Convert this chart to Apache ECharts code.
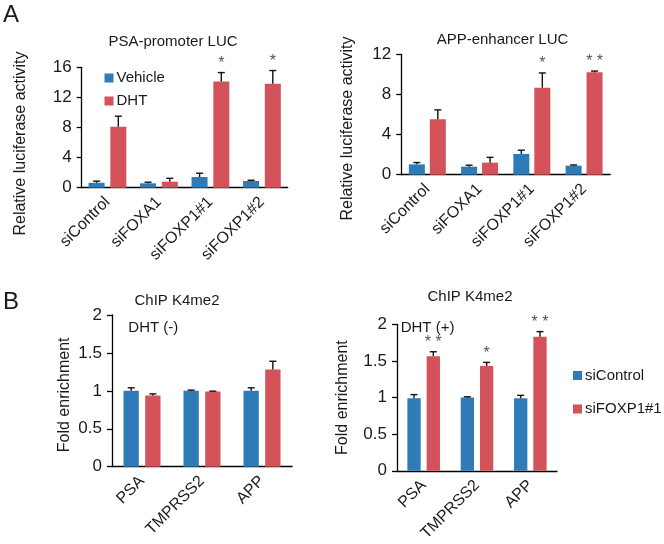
<!DOCTYPE html>
<html>
<head>
<meta charset="utf-8">
<script src="https://cdn.jsdelivr.net/npm/echarts@6/dist/echarts.min.js"></script>
<style>html,body{margin:0;padding:0;background:#fff}#c{width:664px;height:544px}</style>
</head>
<body>
<div id="c"></div>
<script>
// ---- data ----
const catsA = ['siControl', 'siFOXA1', 'siFOXP1#1', 'siFOXP1#2'];
const psaVehicle = [0.65, 0.58, 1.42, 0.89];
const psaVehicleErr = [0.22, 0.15, 0.5, 0.1];
const psaDHT = [8.1, 0.8, 14.1, 13.8];
const psaDHTErr = [1.4, 0.45, 1.2, 1.77];
const psaSig = ['', '', '*', '*'];

const appVehicle = [1.03, 0.8, 2.07, 0.9];
const appVehicleErr = [0.18, 0.15, 0.37, 0.07];
const appDHT = [5.53, 1.2, 8.67, 10.2];
const appDHTErr = [0.93, 0.53, 1.47, 0.13];
const appSig = ['', '', '*', '**'];

const catsB = ['PSA', 'TMPRSS2', 'APP'];
const minusControl = [1.0, 1.0, 1.0];
const minusControlErr = [0.04, 0.01, 0.04];
const minusFOXP1 = [0.94, 0.99, 1.28];
const minusFOXP1Err = [0.02, 0.006, 0.11];
const minusSig = ['', '', ''];
const plusControl = [0.99, 1.0, 0.99];
const plusControlErr = [0.05, 0.01, 0.04];
const plusFOXP1 = [1.565, 1.43, 1.83];
const plusFOXP1Err = [0.06, 0.05, 0.07];
const plusSig = ['**', '*', '**'];

const yTicksA1 = {min: 0, max: 16, interval: 4};
const yTicksA2 = {min: 0, max: 12, interval: 4};
const yTicksB = {min: 0, max: 2, interval: 0.5};

// ---- style ----
const FONT = '"Liberation Sans", Arial, sans-serif';
const BLUE = '#2e7bb8';
const RED = '#d4525a';
const TXT = '#1a1a1a';

const grids = [
  {left: 81.7, top: 67.3, width: 206, height: 120.4},
  {left: 401.2, top: 54.3, width: 209, height: 120.4},
  {left: 112, top: 315, width: 180, height: 151.7},
  {left: 397, top: 324.3, width: 160, height: 150.4}
];
const bw = [16, 16, 15.3, 13.3];
const gap = [5.7, 5, 6.4, 6];
const yNames = ['Relative luciferase activity', 'Relative luciferase activity', 'Fold enrichment', 'Fold enrichment'];
const nameGaps = [53, 46, 39, 46];
const nameShift = [32, 28, 8, 0];
const yTicks = [yTicksA1, yTicksA2, yTicksB, yTicksB];
const cats = [catsA, catsA, catsB, catsB];

const xAxis = cats.map((c, i) => ({
  type: 'category', gridIndex: i, data: c,
  axisLine: {lineStyle: {color: '#000', width: 1.3}},
  axisTick: {show: false},
  axisLabel: {rotate: 45, interval: 0, fontSize: 16, color: TXT, fontFamily: FONT, margin: 12}
}));
const yAxis = yTicks.map((t, i) => ({
  type: 'value', gridIndex: i, min: t.min, max: t.max, interval: t.interval,
  name: yNames[i], nameLocation: 'middle', nameRotate: 90, nameGap: nameGaps[i],
  nameTextStyle: {fontSize: 16, color: TXT, fontFamily: FONT, padding: [0, nameShift[i], 0, 0]},
  axisLine: {show: true, lineStyle: {color: '#000', width: 1.3}},
  axisTick: {show: true, length: 5, lineStyle: {color: '#000', width: 1.3}},
  splitLine: {show: false},
  axisLabel: {fontSize: 17, color: TXT, fontFamily: FONT, margin: 10}
}));

function barSeries(idx, name, vals, color) {
  return {
    type: 'bar', name: name, xAxisIndex: idx, yAxisIndex: idx, data: vals,
    barWidth: bw[idx], barGap: (gap[idx] / bw[idx] * 100).toFixed(0) + '%',
    itemStyle: {color: color}, silent: true, z: 2
  };
}
function errSeries(idx, vals, errs, sig, side) {
  const off = side * (bw[idx] + gap[idx]) / 2;
  return {
    type: 'custom', xAxisIndex: idx, yAxisIndex: idx, silent: true, z: 5,
    data: vals.map((v, i) => [i, v, errs[i]]),
    renderItem: function (params, api) {
      const i = api.value(0), v = api.value(1), e = api.value(2);
      const p0 = api.coord([i, v]);
      const p1 = api.coord([i, v + e]);
      const x = p0[0] + off;
      const ch = [
        {type: 'line', shape: {x1: x, y1: p0[1], x2: x, y2: p1[1]}, style: {stroke: '#111', lineWidth: 1.4}},
        {type: 'line', shape: {x1: x - 3.5, y1: p1[1], x2: x + 3.5, y2: p1[1]}, style: {stroke: '#111', lineWidth: 1.4}}
      ];
      const s = sig ? sig[params.dataIndex] : '';
      if (s) {
        ch.push({type: 'text', style: {text: s.split('').join(' '), x: x, y: p1[1] - 1,
          align: 'center', verticalAlign: 'bottom', font: '16px ' + FONT, fill: '#555'}});
      }
      return {type: 'group', children: ch};
    }
  };
}

const series = [
  barSeries(0, 'Vehicle', psaVehicle, BLUE), barSeries(0, 'DHT', psaDHT, RED),
  errSeries(0, psaVehicle, psaVehicleErr, null, -1), errSeries(0, psaDHT, psaDHTErr, psaSig, 1),
  barSeries(1, 'Vehicle', appVehicle, BLUE), barSeries(1, 'DHT', appDHT, RED),
  errSeries(1, appVehicle, appVehicleErr, null, -1), errSeries(1, appDHT, appDHTErr, appSig, 1),
  barSeries(2, 'siControl', minusControl, BLUE), barSeries(2, 'siFOXP1#1', minusFOXP1, RED),
  errSeries(2, minusControl, minusControlErr, null, -1), errSeries(2, minusFOXP1, minusFOXP1Err, minusSig, 1),
  barSeries(3, 'siControl', plusControl, BLUE), barSeries(3, 'siFOXP1#1', plusFOXP1, RED),
  errSeries(3, plusControl, plusControlErr, null, -1), errSeries(3, plusFOXP1, plusFOXP1Err, plusSig, 1)
];

function txt(text, x, y, size, align) {
  return {type: 'text', x: x, y: y, style: {text: text, font: size + 'px ' + FONT, fill: TXT,
    align: align || 'center', verticalAlign: 'middle'}};
}

const option = {
  animation: false,
  backgroundColor: '#fff',
  grid: grids,
  xAxis: xAxis,
  yAxis: yAxis,
  legend: [
    {data: ['Vehicle', 'DHT'], orient: 'vertical', left: 104.5, top: 70.5, padding: 0, itemWidth: 9, itemHeight: 9,
      itemGap: 8, icon: 'rect', selectedMode: false,
      textStyle: {fontSize: 15, color: TXT, fontFamily: FONT, padding: [0, 0, 0, -2]}},
    {data: ['siControl', 'siFOXP1#1'], orient: 'vertical', left: 573, top: 368, padding: 0, itemWidth: 9, itemHeight: 9,
      itemGap: 18.5, icon: 'rect', selectedMode: false,
      textStyle: {fontSize: 15, color: TXT, fontFamily: FONT, padding: [0, 0, 0, -2]}}
  ],
  graphic: [
    txt('A', 3, 15, 24, 'left'),
    txt('B', 3, 302, 24, 'left'),
    txt('PSA-promoter LUC', 173, 42, 15),
    txt('APP-enhancer LUC', 502.5, 40, 15),
    txt('ChIP K4me2', 177, 300.5, 15),
    txt('ChIP K4me2', 470, 297, 15),
    txt('DHT (-)', 128.3, 328.3, 15, 'left'),
    txt('DHT (+)', 400.7, 328.3, 15, 'left')
  ],
  series: series
};
echarts.init(document.getElementById('c'), null, {renderer: 'canvas'}).setOption(option);
</script>
</body>
</html>
